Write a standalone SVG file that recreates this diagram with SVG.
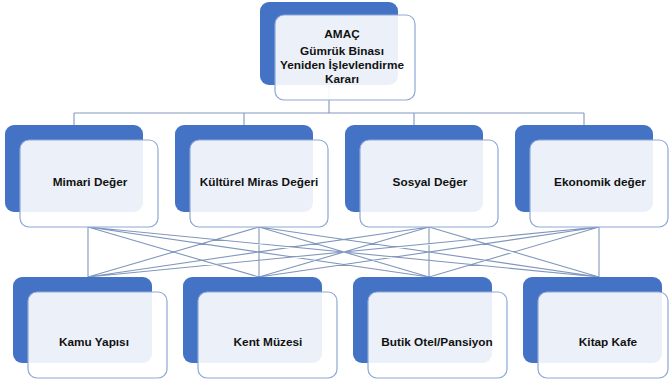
<svg xmlns="http://www.w3.org/2000/svg" width="670" height="382" viewBox="0 0 670 382">
<style>
.blue{fill:#4472C4;}
.card{fill:#ffffff;fill-opacity:0.9;stroke:#8EA8D6;stroke-width:1.2;}
.conn{fill:none;stroke:#8197BC;stroke-width:1.1;}
.t{font-family:"Liberation Sans",Arial,sans-serif;font-weight:bold;font-size:11.8px;fill:#111;text-anchor:middle;}
</style>
<rect width="670" height="382" fill="#ffffff"/>
<g id="connectors">
<path class="conn" d="M329,43 V113 M74,113 H584 M74,113 V125 M244,113 V125 M414,113 V125 M584,113 V125"/>
<path class="conn" d="M88,227 L88,277 M88,227 L259,277 M88,227 L429,277 M88,227 L599,277
M259,227 L88,277 M259,227 L259,277 M259,227 L429,277 M259,227 L599,277
M429,227 L88,277 M429,227 L259,277 M429,227 L429,277 M429,227 L599,277
M599,227 L88,277 M599,227 L259,277 M599,227 L429,277 M599,227 L599,277"/>
</g>
<g id="node-amac">
<rect class="blue" x="260" y="2" width="138" height="83" rx="9"/>
<rect class="card" x="275" y="15" width="140" height="85" rx="9"/>
<text class="t" x="342" y="38">AMAÇ</text>
<text class="t" x="342" y="55">Gümrük Binası</text>
<text class="t" x="342" y="69">Yeniden İşlevlendirme</text>
<text class="t" x="342" y="83">Kararı</text>
</g>
<g id="node-mimari">
<rect class="blue" x="5" y="125" width="138" height="87" rx="9"/>
<rect class="card" x="20" y="140" width="138" height="87" rx="9"/>
<text class="t" x="90" y="186">Mimari Değer</text>
</g>
<g id="node-kulturel">
<rect class="blue" x="175" y="125" width="138" height="87" rx="9"/>
<rect class="card" x="190" y="140" width="138" height="87" rx="9"/>
<text class="t" x="259" y="186">Kültürel Miras Değeri</text>
</g>
<g id="node-sosyal">
<rect class="blue" x="345" y="125" width="138" height="87" rx="9"/>
<rect class="card" x="360" y="140" width="138" height="87" rx="9"/>
<text class="t" x="430" y="186">Sosyal Değer</text>
</g>
<g id="node-ekonomik">
<rect class="blue" x="515" y="125" width="138" height="87" rx="9"/>
<rect class="card" x="530" y="140" width="138" height="87" rx="9"/>
<text class="t" x="600" y="186">Ekonomik değer</text>
</g>
<g id="node-kamu">
<rect class="blue" x="13" y="277" width="139" height="86" rx="9"/>
<rect class="card" x="28" y="292" width="139" height="86" rx="9"/>
<text class="t" x="94" y="346">Kamu Yapısı</text>
</g>
<g id="node-kent">
<rect class="blue" x="183" y="277" width="139" height="86" rx="9"/>
<rect class="card" x="198" y="292" width="139" height="86" rx="9"/>
<text class="t" x="268" y="346">Kent Müzesi</text>
</g>
<g id="node-butik">
<rect class="blue" x="353" y="277" width="139" height="86" rx="9"/>
<rect class="card" x="368" y="292" width="139" height="86" rx="9"/>
<text class="t" x="437" y="346">Butik Otel/Pansiyon</text>
</g>
<g id="node-kitap">
<rect class="blue" x="523" y="277" width="139" height="86" rx="9"/>
<rect class="card" x="538" y="292" width="130" height="86" rx="9"/>
<text class="t" x="608" y="346">Kitap Kafe</text>
</g>
</svg>
